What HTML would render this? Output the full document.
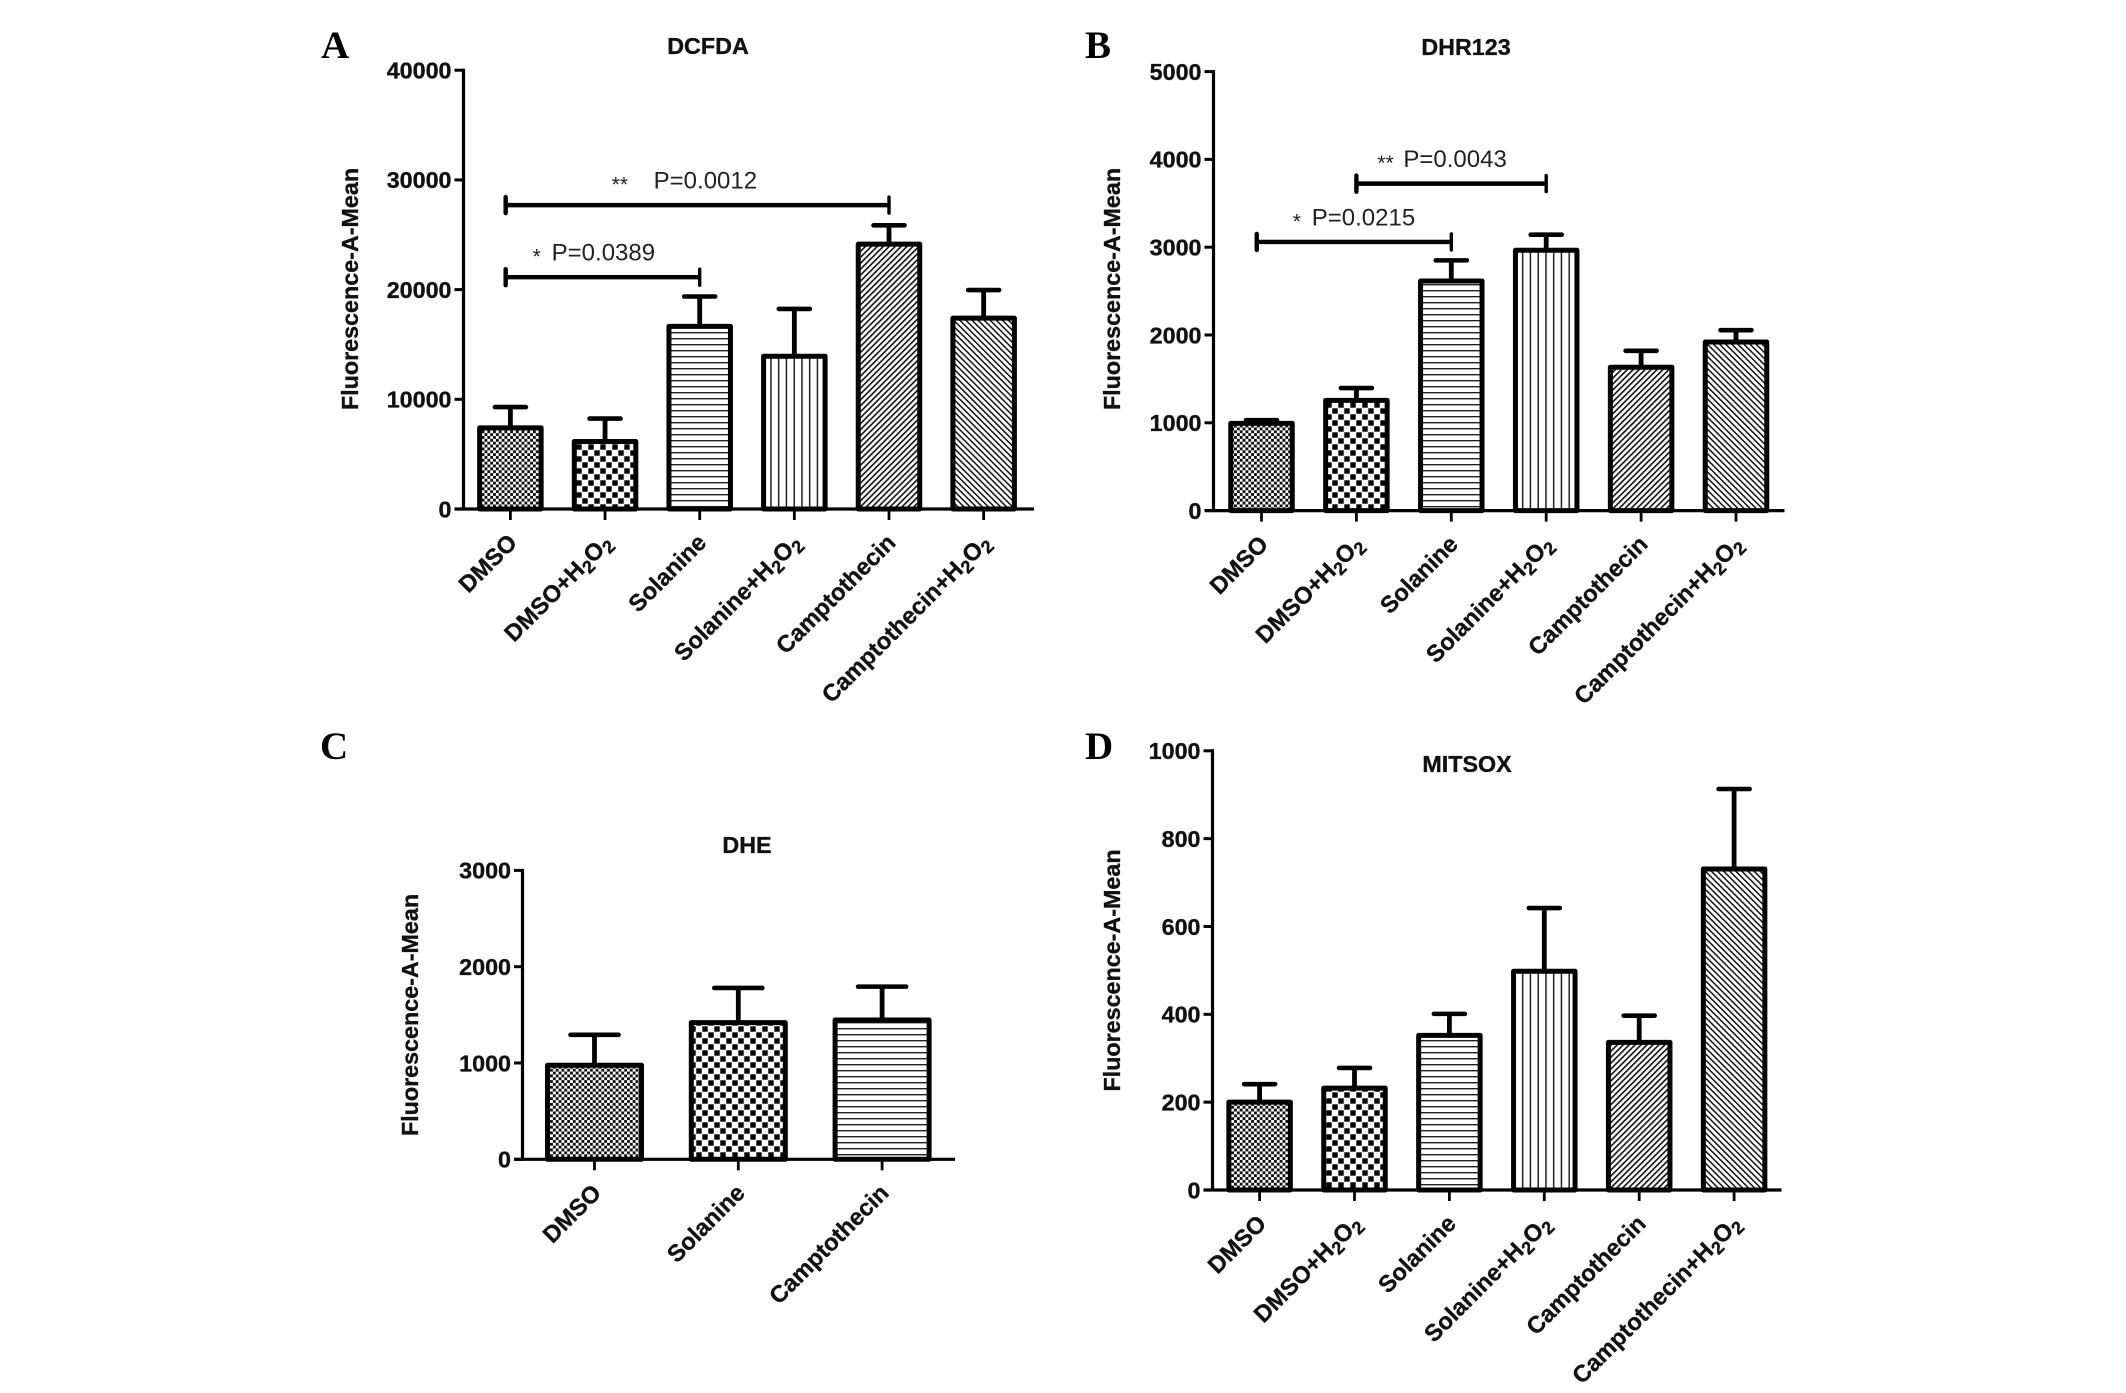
<!DOCTYPE html>
<html lang="en">
<head>
<meta charset="utf-8">
<title>ROS fluorescence bar charts</title>
<style>
html,body{margin:0;padding:0;background:#fff;}
svg{display:block;}
text{font-family:"Liberation Sans",sans-serif;fill:#111;}
.letter{font-family:"Liberation Serif",serif;font-weight:bold;font-size:39px;fill:#000;}
.bold{font-weight:bold;font-size:23.3px;stroke:#111;stroke-width:.35px;}
.xlab{font-size:23.6px;}
.plabel{font-size:24px;fill:#222;}
.star{font-size:21px;fill:#222;}
</style>
</head>
<body>
<svg id="figure" xmlns="http://www.w3.org/2000/svg" width="2126" height="1393" viewBox="0 0 2126 1393">
<defs>
<pattern id="p-fine" patternUnits="userSpaceOnUse" width="5.7" height="5.7"><rect width="5.7" height="5.7" fill="#fff"/><rect width="2.85" height="2.85" fill="#111"/><rect x="2.85" y="2.85" width="2.85" height="2.85" fill="#111"/></pattern>
<pattern id="p-coarse" patternUnits="userSpaceOnUse" width="12" height="12"><rect width="12" height="12" fill="#fff"/><rect x="0.3" y="0.3" width="5.4" height="5.4" fill="#000"/><rect x="6.3" y="6.3" width="5.4" height="5.4" fill="#000"/></pattern>
<pattern id="p-horizontal" patternUnits="userSpaceOnUse" width="8" height="6"><rect width="8" height="6" fill="#fff"/><rect y="2" width="8" height="1.4" fill="#222"/></pattern>
<pattern id="p-vertical" patternUnits="userSpaceOnUse" width="7.75" height="8"><rect width="7.75" height="8" fill="#fff"/><rect x="3" width="1.4" height="8" fill="#111"/></pattern>
<pattern id="p-diag-up" patternUnits="userSpaceOnUse" width="4.2" height="8" patternTransform="rotate(45)"><rect width="4.2" height="8" fill="#fff"/><rect width="1.6" height="8" fill="#111"/></pattern>
<pattern id="p-diag-down" patternUnits="userSpaceOnUse" width="4.3" height="8" patternTransform="rotate(-45)"><rect width="4.3" height="8" fill="#fff"/><rect width="1.5" height="8" fill="#111"/></pattern>
</defs>
</svg>
<script>
// ---- chart data ----
const sixCategories = ["DMSO", "DMSO+H2O2", "Solanine", "Solanine+H2O2", "Camptothecin", "Camptothecin+H2O2"];
const threeCategories = ["DMSO", "Solanine", "Camptothecin"];

const dcfdaMeans = [7400, 6150, 16650, 13930, 24140, 17400];
const dcfdaErrors = [1890, 2090, 2720, 4310, 1720, 2560];
const dcfdaTicks = [0, 10000, 20000, 30000, 40000];
const dcfdaBracketStart = [-0.05, -0.05];
const dcfdaBracketEnd = [4, 2];
const dcfdaBracketValue = [27700, 21130];
const dcfdaBracketText = ["P=0.0012", "P=0.0389"];
const dcfdaBracketStars = ["**", "*"];

const dhrMeans = [994, 1255, 2615, 2965, 1632, 1920];
const dhrErrors = [36, 141, 235, 178, 188, 135];
const dhrTicks = [0, 1000, 2000, 3000, 4000, 5000];
const dhrBracketStart = [1, -0.05];
const dhrBracketEnd = [3, 2];
const dhrBracketValue = [3724, 3060];
const dhrBracketText = ["P=0.0043", "P=0.0215"];
const dhrBracketStars = ["**", "*"];

const dheMeans = [977, 1419, 1446];
const dheErrors = [316, 360, 347];
const dheTicks = [0, 1000, 2000, 3000];

const mitsoxMeans = [200, 232, 352, 498, 336, 731];
const mitsoxErrors = [41, 46, 49, 144, 61, 182];
const mitsoxTicks = [0, 200, 400, 600, 800, 1000];

const sixPatterns = ["p-fine", "p-coarse", "p-horizontal", "p-vertical", "p-diag-up", "p-diag-down"];
const threePatterns = ["p-fine", "p-coarse", "p-horizontal"];

// ---- drawing ----
const NS = "http://www.w3.org/2000/svg";
const figure = document.getElementById("figure");

function make(tag, parent, attrs, text) {
  const el = document.createElementNS(NS, tag);
  for (const k in attrs) el.setAttribute(k, attrs[k]);
  if (text !== undefined) el.textContent = text;
  parent.appendChild(el);
  return el;
}

function fillCategoryLabel(el, label) {
  const parts = label.split(/(2)/);
  parts.forEach(function (part, i) {
    if (part === "") return;
    if (part === "2") {
      const sub = make("tspan", el, { "font-size": "18", dy: "5" }, "2");
      
      
      const next = parts[i + 1];
      if (next) {
        const rest = make("tspan", el, { dy: "-5" }, next);
        
        
        parts[i + 1] = "";
      }
    } else {
      el.appendChild(document.createTextNode(part));
    }
  });
}

function drawPanel(cfg) {
  const g = make("g", figure, {});
  
  

  const yScale = function (v) { return cfg.yBase + (cfg.yTop - cfg.yBase) * v / cfg.yMax; };
  const xScale = function (i) { return cfg.xFirst + i * cfg.xStep; };

  const letter = make("text", g, { x: cfg.letterX, y: cfg.letterY, class: "letter" }, cfg.letter);
  
  

  const title = make("text", g, { x: cfg.titleX, y: cfg.titleY, class: "bold", "text-anchor": "middle" }, cfg.title);
  
  

  const yTitle = make("text", g, { class: "bold", "text-anchor": "middle",
    transform: "translate(" + cfg.yTitleX + "," + cfg.yTitleY + ") rotate(-90)" }, "Fluorescence-A-Mean");
  
  

  // bars and error bars
  cfg.means.forEach(function (m, i) {
    const cx = xScale(i);
    const top = yScale(m);
    const errTop = yScale(m + cfg.errors[i]);
    const whisker = make("line", g, { x1: cx, x2: cx, y1: top, y2: errTop, stroke: "#000", "stroke-width": 4.8 });
    
    
    const cap = make("line", g, { x1: cx - cfg.capHalf, x2: cx + cfg.capHalf, y1: errTop, y2: errTop, stroke: "#000", "stroke-width": 4.6, "stroke-linecap": "round" });
    
    
    const bar = make("rect", g, { x: cx - cfg.barWidth / 2, y: top, width: cfg.barWidth, height: cfg.yBase - top,
      fill: "url(#" + cfg.patterns[i] + ")", stroke: "#000", "stroke-width": 5, "stroke-linejoin": "round" });
    
    
  });

  // axes
  const yAxis = make("line", g, { x1: cfg.xAxisStart + cfg.tickLen, x2: cfg.xAxisStart + cfg.tickLen, y1: yScale(cfg.yMax) - 1.5, y2: cfg.yBase + 1.5, stroke: "#000", "stroke-width": 3.2 });
  
  
  const xAxis = make("line", g, { x1: cfg.xAxisStart, x2: cfg.xAxisEnd, y1: cfg.yBase, y2: cfg.yBase, stroke: "#000", "stroke-width": 3.2 });
  
  

  cfg.ticks.forEach(function (t) {
    const y = yScale(t);
    const tick = make("line", g, { x1: cfg.xAxisStart, x2: cfg.xAxisStart + cfg.tickLen, y1: y, y2: y, stroke: "#000", "stroke-width": 3 });
    
    
    const lab = make("text", g, { x: cfg.xAxisStart - 3, y: y + 8.3, class: "bold", "text-anchor": "end" }, String(t));
    
    
  });

  cfg.categories.forEach(function (c, i) {
    const cx = xScale(i);
    const tick = make("line", g, { x1: cx, x2: cx, y1: cfg.yBase, y2: cfg.yBase + 11, stroke: "#000", "stroke-width": 2.8 });
    
    
    const lab = make("text", g, { class: "bold xlab", "text-anchor": "end",
      transform: "translate(" + (cx + 8) + "," + (cfg.yBase + 35) + ") rotate(-45)" });
    
    
    fillCategoryLabel(lab, c);
  });

  // significance brackets
  (cfg.bracketValue || []).forEach(function (v, i) {
    const y = yScale(v);
    const x1 = xScale(cfg.bracketStart[i]);
    const x2 = xScale(cfg.bracketEnd[i]);
    const line = make("line", g, { x1: x1, x2: x2, y1: y, y2: y, stroke: "#000", "stroke-width": 4.4 });
    
    
    const left = make("line", g, { x1: x1, x2: x1, y1: y - 8, y2: y + 8, stroke: "#000", "stroke-width": 4.4, "stroke-linecap": "round" });
    
    
    const right = make("line", g, { x1: x2, x2: x2, y1: y - 8, y2: y + 8, stroke: "#000", "stroke-width": 3.4, "stroke-linecap": "round" });
    
    
    const star = make("text", g, { x: x1 + cfg.starOffset[i], y: y - 13.5, class: "star" }, cfg.bracketStars[i]);
    
    
    const p = make("text", g, { x: x1 + cfg.pOffset[i], y: y - 16.5, class: "plabel" }, cfg.bracketText[i]);
    
    
  });
}

drawPanel({
  name: "dcfda", letter: "A", letterX: 321, letterY: 58, title: "DCFDA", titleX: 708, titleY: 54,
  yTitleX: 358, yTitleY: 289, yBase: 509, yTop: 70.2, yMax: 40000,
  xFirst: 510.4, xStep: 94.65, xAxisStart: 454.5, xAxisEnd: 1034, tickLen: 9,
  barWidth: 61.5, capHalf: 15.5, ticks: dcfdaTicks, categories: sixCategories, patterns: sixPatterns,
  means: dcfdaMeans, errors: dcfdaErrors,
  bracketStart: dcfdaBracketStart, bracketEnd: dcfdaBracketEnd, bracketValue: dcfdaBracketValue,
  bracketText: dcfdaBracketText, bracketStars: dcfdaBracketStars,
  pOffset: [148, 46], starOffset: [106, 27]
});
drawPanel({
  name: "dhr123", letter: "B", letterX: 1085, letterY: 58, title: "DHR123", titleX: 1466, titleY: 55,
  yTitleX: 1120, yTitleY: 289, yBase: 510.6, yTop: 71.6, yMax: 5000,
  xFirst: 1261.5, xStep: 94.9, xAxisStart: 1204.5, xAxisEnd: 1784.5, tickLen: 9,
  barWidth: 61.5, capHalf: 15.5, ticks: dhrTicks, categories: sixCategories, patterns: sixPatterns,
  means: dhrMeans, errors: dhrErrors,
  bracketStart: dhrBracketStart, bracketEnd: dhrBracketEnd, bracketValue: dhrBracketValue,
  bracketText: dhrBracketText, bracketStars: dhrBracketStars,
  pOffset: [47, 55], starOffset: [21, 36]
});
drawPanel({
  name: "dhe", letter: "C", letterX: 320, letterY: 759, title: "DHE", titleX: 747, titleY: 853,
  yTitleX: 418, yTitleY: 1015, yBase: 1159.3, yTop: 870.4, yMax: 3000,
  xFirst: 594.5, xStep: 143.8, xAxisStart: 514, xAxisEnd: 955, tickLen: 8.5,
  barWidth: 94, capHalf: 24, ticks: dheTicks, categories: threeCategories, patterns: threePatterns,
  means: dheMeans, errors: dheErrors
});
drawPanel({
  name: "mitsox", letter: "D", letterX: 1085, letterY: 759, title: "MITSOX", titleX: 1467, titleY: 772,
  yTitleX: 1120, yTitleY: 970.5, yBase: 1190, yTop: 750.8, yMax: 1000,
  xFirst: 1259.6, xStep: 94.9, xAxisStart: 1203.5, xAxisEnd: 1781.5, tickLen: 9,
  barWidth: 61.5, capHalf: 15.5, ticks: mitsoxTicks, categories: sixCategories, patterns: sixPatterns,
  means: mitsoxMeans, errors: mitsoxErrors
});
</script>
</body>
</html>
